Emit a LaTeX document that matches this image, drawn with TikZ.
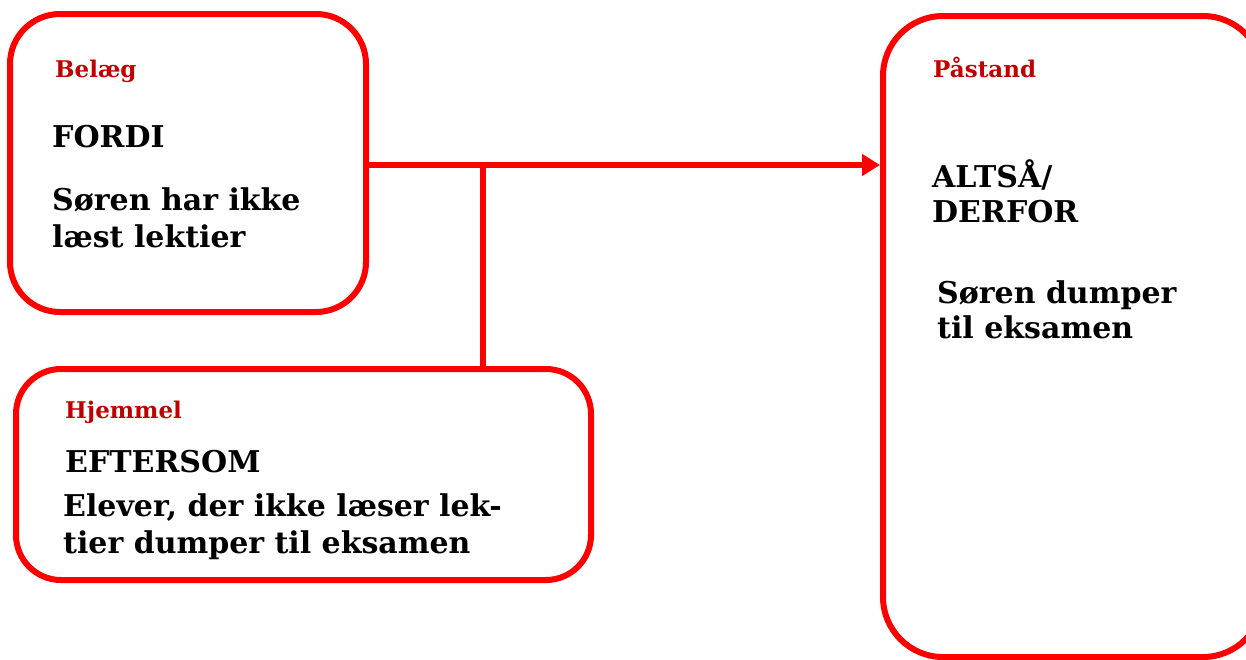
\documentclass[tikz,border=0pt]{standalone}
\usepackage{fontspec}
\setmainfont{DejaVu Serif}
\usetikzlibrary{arrows.meta}
\definecolor{boxred}{HTML}{FF0000}
\definecolor{labred}{HTML}{C00000}
\tikzset{
  argbox/.style={draw=boxred, line width=6pt, rounded corners=50pt, inner sep=0pt},
  lab/.style={anchor=base west, inner sep=0pt, text=labred, font=\bfseries\fontsize{23}{27}\selectfont},
  txt/.style={anchor=base west, inner sep=0pt, text=black, font=\bfseries\fontsize{30}{37}\selectfont},
  conn/.style={draw=boxred, line width=6pt},
}
\begin{document}
\begin{tikzpicture}[x=1pt,y=-1pt]
\useasboundingbox (0,0) rectangle (1246,659);
\clip (0,0) rectangle (1246,659);
% boxes
\node[argbox, minimum width=356pt, minimum height=298pt] (b1) at (188,163) {};
\node[argbox, rounded corners=45pt, minimum width=575pt, minimum height=211pt] (b2) at (303.5,474.5) {};
\node[argbox, rounded corners=60pt, minimum width=380pt, minimum height=641pt] (b3) at (1073,336.5) {};
% connectors
\coordinate (j) at (483,165);
\draw[conn, -{Triangle[length=18pt,width=21pt]}] (b1.east |- j) -- (b3.west |- j);
\draw[conn] (j) -- (b2.north -| j);
% box 1 text
\node[lab] (l1) at (55,77) {Belæg};
\node[txt] (t1a) at (52,147) {FORDI};
\node[txt] (t1b) at (52,210) {Søren har ikke};
\node[txt] (t1c) at (52,247) {læst lektier};
% box 2 text
\node[lab] (l2) at (65,418) {Hjemmel};
\node[txt] (t2a) at (65,472) {EFTERSOM};
\node[txt] (t2b) at (63,516) {Elever, der ikke læser lek-};
\node[txt] (t2c) at (63,553) {tier dumper til eksamen};
% box 3 text
\node[lab] (l3) at (933,77) {Påstand};
\node[txt] (t3a) at (932,187) {ALTSÅ/};
\node[txt] (t3b) at (932,222) {DERFOR};
\node[txt] (t3c) at (937,303) {Søren dumper};
\node[txt] (t3d) at (937,338) {til eksamen};
\end{tikzpicture}
\end{document}
